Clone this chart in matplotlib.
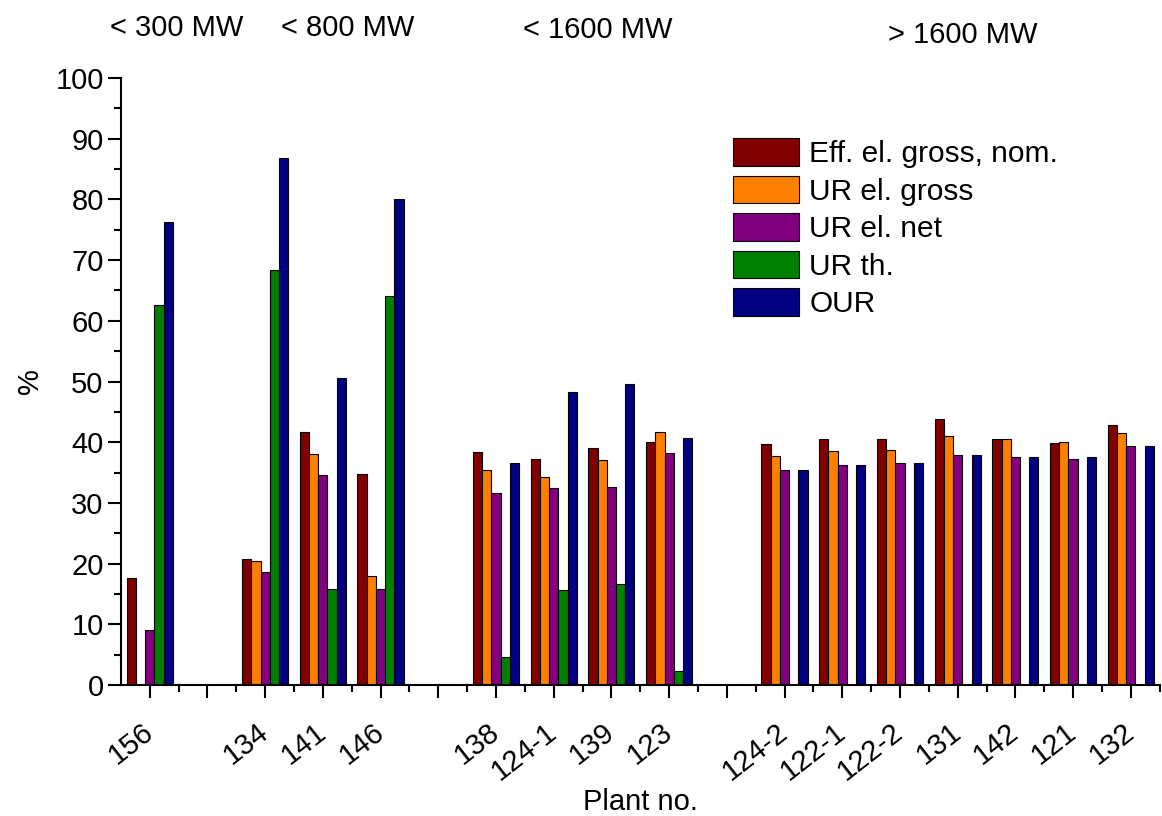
import numpy as np
import matplotlib
matplotlib.use("Agg")
import matplotlib.pyplot as plt
from matplotlib.ticker import MultipleLocator

plt.rcParams["font.family"] = ["Liberation Sans", "DejaVu Sans"]

nan = np.nan

# plant numbers, empty strings are spacer slots between size classes
plants = ["156", "", "134", "141", "146", "", "138", "124-1", "139", "123", "",
          "124-2", "122-1", "122-2", "131", "142", "121", "132"]

eff_gross = [17.6, nan, 20.8, 41.7, 34.8, nan, 38.4, 37.3, 39.0, 40.1, nan,
             39.7, 40.6, 40.6, 43.9, 40.5, 39.9, 42.8]
ur_gross = [nan, nan, 20.5, 38.0, 18.0, nan, 35.4, 34.2, 37.1, 41.7, nan,
            37.8, 38.6, 38.8, 41.1, 40.6, 40.0, 41.5]
ur_net = [9.0, nan, 18.6, 34.6, 15.8, nan, 31.7, 32.4, 32.7, 38.3, nan,
          35.5, 36.3, 36.5, 37.9, 37.5, 37.3, 39.3]
ur_th = [62.6, nan, 68.3, 15.9, 64.1, nan, 4.6, 15.7, 16.7, 2.3, nan,
         nan, nan, nan, nan, nan, nan, nan]
our = [76.3, nan, 86.9, 50.5, 80.0, nan, 36.5, 48.2, 49.6, 40.7, nan,
       35.5, 36.3, 36.5, 37.9, 37.5, 37.5, 39.3]

series = [
    ("Eff. el. gross, nom.", eff_gross, "#800000"),
    ("UR el. gross", ur_gross, "#ff8000"),
    ("UR el. net", ur_net, "#800080"),
    ("UR th.", ur_th, "#008000"),
    ("OUR", our, "#000080"),
]

size_classes = ["< 300 MW", "< 800 MW", "< 1600 MW", "> 1600 MW"]
class_pos = [(0.46, 108.2), (3.43, 108.2), (7.76, 107.9), (14.09, 107.1)]

fig = plt.figure(figsize=(11.62, 8.16), dpi=100)
ax = fig.add_axes([0.104, 0.1605, 0.894, 0.7439])

x = np.arange(len(plants))
w = 0.16
for i, (name, vals, col) in enumerate(series):
    ax.bar(x + (i - 2) * w, vals, w, color=col, edgecolor="black",
           linewidth=0.8, label=name)

ax.set_xlim(-0.5, 17.33)
ax.set_ylim(0, 100)
ax.yaxis.set_major_locator(MultipleLocator(10))
ax.yaxis.set_minor_locator(MultipleLocator(5))
ax.set_xticks(x)
ax.set_xticks(x + 0.5, minor=True)
ax.set_xticklabels(plants, rotation=38, ha="right", va="center",
                   rotation_mode="anchor", fontsize=22.5)

for s in ["top", "right"]:
    ax.spines[s].set_visible(False)
for s in ["left", "bottom"]:
    ax.spines[s].set_linewidth(1.5)

ax.tick_params(which="major", length=9.4, width=1.5, labelsize=21,
               direction="out")
ax.tick_params(which="minor", length=5, width=1.5, direction="out")
ax.tick_params(axis="x", which="major", pad=22)
ax.tick_params(axis="y", which="major", pad=3)

ax.set_ylabel("%", fontsize=21, labelpad=8)
ax.set_xlabel("Plant no.", fontsize=21, labelpad=2)

for txt, (px, py) in zip(size_classes, class_pos):
    ax.text(px, py, txt, fontsize=21, ha="center", va="center",
            clip_on=False)

ax.legend(loc="upper left", bbox_to_anchor=(733 / 1162, 1 - 138 / 816),
          bbox_transform=fig.transFigure, frameon=False, fontsize=21.5,
          handlelength=2.2, handleheight=1.05, labelspacing=0.25,
          handletextpad=0.35, borderpad=0, borderaxespad=0)

fig.savefig("out.png", dpi=100)
